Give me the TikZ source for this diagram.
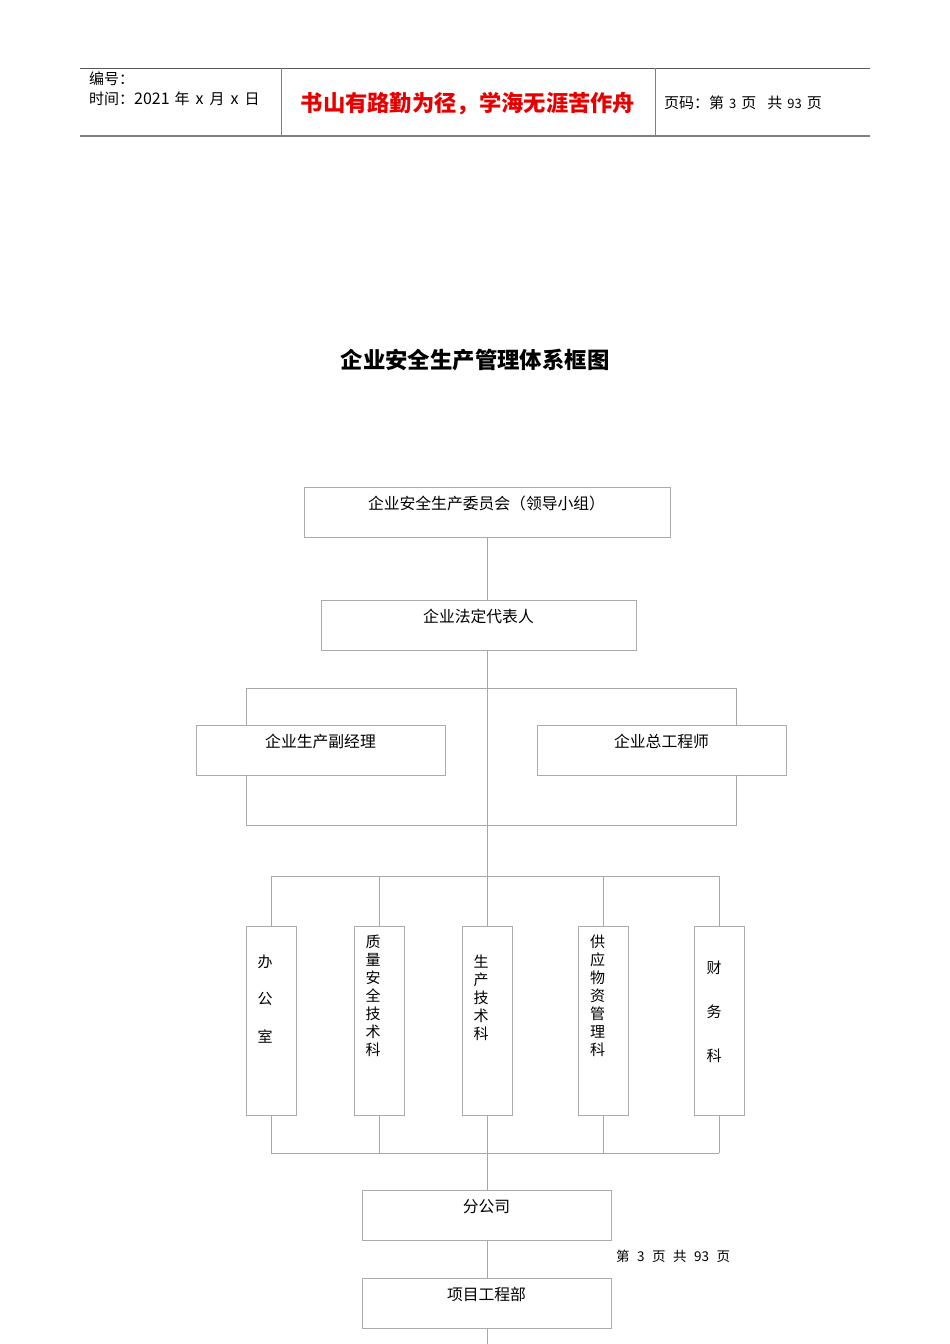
\documentclass[tikz,border=0pt]{standalone}
\usepackage{fontspec}
\newfontfamily\cjk{Noto Sans CJK SC}
\definecolor{ln}{HTML}{A8A8A8}
\definecolor{bx}{HTML}{ABABAB}
\definecolor{hd}{HTML}{5A5A5A}
\definecolor{motto}{HTML}{E60000}
\newcommand\vcol[3]{\parbox[c][189pt][t]{50pt}{\raggedright\leftskip=#1\relax\vspace*{#2}#3}}
\begin{document}
\begin{tikzpicture}[x=1pt,y=-1pt,
  every node/.style={font=\cjk, inner sep=0pt},
  hbox/.style={draw=bx, line width=0.8pt, text height=22pt, text depth=28pt, font=\cjk\fontsize{15.8}{18}\selectfont},
  vbox/.style={draw=bx, line width=0.8pt},
  conn/.style={draw=ln, line width=0.8pt},
  hdtext/.style={font=\cjk\fontsize{15}{18}\selectfont, anchor=west}
]
\useasboundingbox (0,0) rectangle (950,1344);
% header
\draw[hd, line width=1pt] (80,68) -- (870,68);
\draw[gray, line width=2pt] (80,136) -- (870,136);
\draw[gray, line width=1pt] (281,68) -- (281,136);
\draw[gray, line width=1pt] (655,68) -- (655,136);
\node[hdtext] (h1) at (89,79) {编号：};
\node[hdtext] (h2) at (89,99) {时间：{\fontsize{16}{18}\selectfont 2021}\hspace{5pt}年\hspace{6pt}{\fontsize{16}{18}\selectfont x}\hspace{6pt}月\hspace{6pt}{\fontsize{16}{18}\selectfont x}\hspace{6pt}日};
\node[font=\cjk\bfseries\fontsize{22.3}{24}\selectfont, text=motto] (h3) at (468,104) {书山有路勤为径，学海无涯苦作舟};
\node[hdtext] (h4) at (664,103) {页码：第\hspace{5pt}{\fontsize{13}{15}\selectfont 3}\hspace{5pt}页\hspace{11pt}共\hspace{5pt}{\fontsize{13}{15}\selectfont 93}\hspace{5pt}页};
% title
\node[font=\cjk\bfseries\fontsize{22.4}{24}\selectfont] (title) at (475,360) {企业安全生产管理体系框图};
% boxes
\node[hbox, minimum width=366pt] (b1) at (487,512) {\hspace{-1pt}企业安全生产委员会（领导小组）};
\node[hbox, minimum width=315pt] (b2) at (478.5,625) {企业法定代表人};
\node[hbox, minimum width=249pt] (b3) at (320.5,750) {企业生产副经理};
\node[hbox, minimum width=249pt] (b4) at (661.5,750) {企业总工程师};
\node[vbox] (va) at (271,1020.5) {\vcol{11.5pt}{28.5pt}{\fontsize{15}{37.5}\selectfont 办\\公\\室}};
\node[vbox] (vb) at (379,1020.5) {\vcol{11.5pt}{8.5pt}{\fontsize{15}{18}\selectfont 质\\量\\安\\全\\技\\术\\科}};
\node[vbox] (vc) at (487,1020.5) {\vcol{11.5pt}{28.5pt}{\fontsize{15}{18}\selectfont 生\\产\\技\\术\\科}};
\node[vbox] (vd) at (603,1020.5) {\vcol{12pt}{8.5pt}{\fontsize{15}{18}\selectfont 供\\应\\物\\资\\管\\理\\科}};
\node[vbox] (ve) at (719.5,1020.5) {\vcol{12pt}{34.5pt}{\fontsize{15}{44}\selectfont 财\\务\\科}};
\node[hbox, minimum width=249pt, text depth=28.5pt] (f) at (486.5,1215.5) {分公司};
\node[hbox, minimum width=249pt, text depth=28.5pt] (g) at (486.5,1303.5) {项目工程部};
\node[font=\cjk\fontsize{13.5}{16}\selectfont, anchor=west] (pg) at (616,1256) {第\hspace{7.5pt}3\hspace{7.5pt}页\hspace{7.5pt}共\hspace{7.5pt}93\hspace{7.5pt}页};
% coordinates
\coordinate (lt) at (246,688);
\coordinate (rt) at (736,688);
\coordinate (lb) at (246,825);
\coordinate (rb) at (736,825);
\coordinate (bl) at (271,876);
\coordinate (br) at (719,876);
\coordinate (bl2) at (271,1153);
\coordinate (br2) at (719,1153);
\coordinate (end) at (487,1344);
% connectors
\draw[conn] (b1.south) -- (b1.south |- b2.north);
\draw[conn] (b1.south |- b2.south) -- (b1.south |- bl);
\draw[conn] (b3.north -| lt) -- (lt) -- (rt) -- (b4.north -| rt);
\draw[conn] (b3.south -| lb) -- (lb) -- (rb) -- (b4.south -| rb);
\draw[conn] (bl) -- (br);
\draw[conn] (bl2) -- (br2);
\foreach \v/\x in {va/271,vb/379,vc/487,vd/603,ve/719}{
  \draw[conn] (\x,876) -- (\v.north -| \x,0);
  \draw[conn] (\v.south -| \x,0) -- (\x,1153);
}
\draw[conn] (vc.south |- bl2) -- (f.north -| vc.south);
\draw[conn] (f.south -| vc.south) -- (g.north -| vc.south);
\draw[conn] (g.south -| vc.south) -- (end);
\end{tikzpicture}
\end{document}
